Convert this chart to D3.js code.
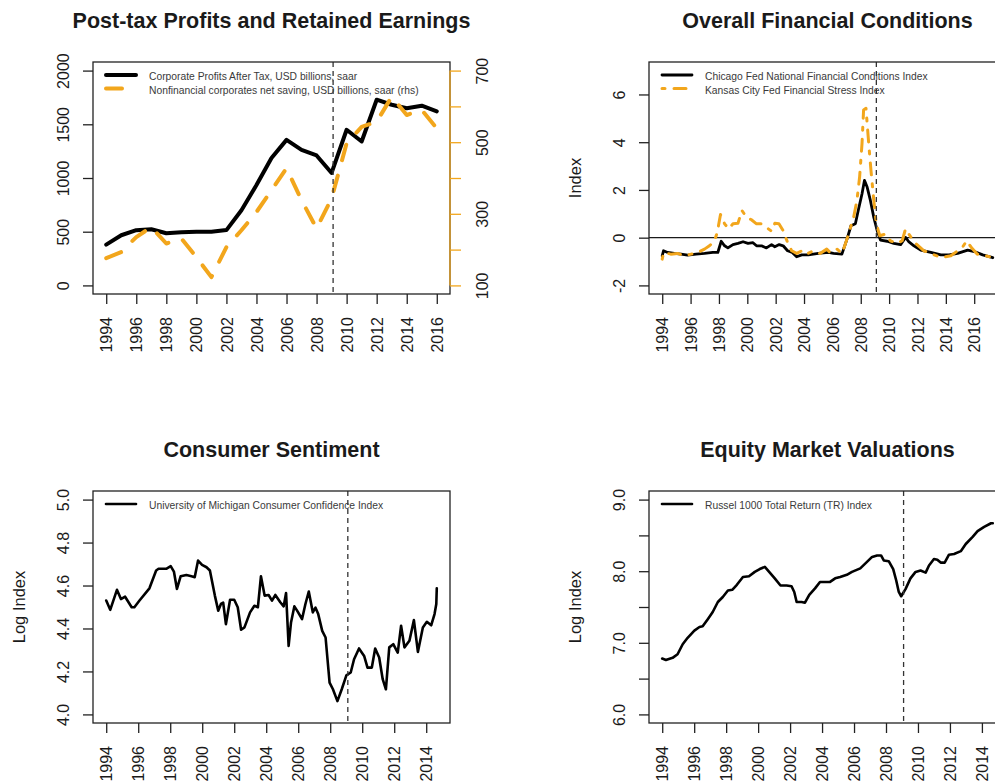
<!DOCTYPE html>
<html lang="en">
<head>
<meta charset="utf-8">
<title>Profits, Financial Conditions, Sentiment and Equity Valuations</title>
<script src="https://d3js.org/d3.v7.min.js"></script>
<style>
  body { margin: 0; background: #fff; }
  svg text { font-family: "Liberation Sans", Arial, sans-serif; }
</style>
</head>
<body>
<div id="chart"></div>
<script>
// ---------- data ----------
const profitYears = [1994, 1995, 1996, 1997, 1998, 1999, 2000, 2001, 2002, 2003, 2004, 2005,
                     2006, 2007, 2008, 2009, 2010, 2011, 2012, 2013, 2014, 2015, 2016];
const profitsAfterTax = [380, 467, 514, 523, 486, 495, 500, 500, 515, 700, 934, 1187,
                         1355, 1262, 1210, 1047, 1449, 1340, 1729, 1682, 1650, 1673, 1620];
const netSaving = [176, 193, 235, 263, 217, 231, 179, 123, 207, 254, 305, 366,
                   427, 338, 259, 343, 497, 543, 557, 627, 576, 590, 539];

const nfciDates = [1994.0, 1994.09, 1994.38, 1994.85, 1995.33, 1995.79, 1996.39, 1996.98, 1997.57, 1997.92,
                   1998.16, 1998.4, 1998.63, 1998.99, 1999.34, 1999.7, 2000.05, 2000.4, 2000.65, 2001.0,
                   2001.35, 2001.71, 2001.94, 2002.25, 2002.53, 2002.84, 2003.17, 2003.48, 2003.84, 2004.3,
                   2005.01, 2005.72, 2006.08, 2006.67, 2007.03, 2007.31, 2007.62, 2007.85, 2008.09, 2008.26,
                   2008.45, 2008.68, 2008.92, 2009.16, 2009.39, 2009.87, 2010.33, 2010.81, 2011.16, 2011.4,
                   2011.75, 2012.23, 2012.94, 2013.65, 2014.23, 2014.83, 2015.54, 2016.01, 2016.6, 2017.31];
const nfciValues = [-0.76, -0.55, -0.62, -0.66, -0.69, -0.73, -0.69, -0.66, -0.62, -0.62,
                    -0.15, -0.34, -0.43, -0.29, -0.24, -0.17, -0.24, -0.21, -0.34, -0.34,
                    -0.43, -0.29, -0.38, -0.29, -0.34, -0.55, -0.62, -0.80, -0.72, -0.72,
                    -0.66, -0.62, -0.66, -0.69, -0.06, 0.50, 0.58, 1.21, 1.84, 2.40,
                    2.12, 1.56, 0.85, 0.29, -0.10, -0.15, -0.24, -0.29, 0.01, -0.18,
                    -0.34, -0.52, -0.62, -0.72, -0.72, -0.66, -0.52, -0.58, -0.72, -0.84];

const kcfsiDates = [1994.0, 1994.1, 1994.6, 1995.09, 1995.56, 1996.04, 1996.5, 1996.98, 1997.33, 1997.69,
                    1997.88, 1998.11, 1998.4, 1998.68, 1998.99, 1999.34, 1999.62, 1999.94, 2000.29, 2000.65,
                    2001.0, 2001.35, 2001.71, 2001.94, 2002.23, 2002.53, 2002.84, 2003.13, 2003.48, 2003.84,
                    2004.19, 2004.66, 2005.13, 2005.6, 2005.84, 2006.32, 2006.67, 2006.91, 2007.14, 2007.5,
                    2007.73, 2007.92, 2008.09, 2008.2, 2008.37, 2008.56, 2008.72, 2008.92, 2009.1, 2009.34,
                    2009.74, 2010.09, 2010.57, 2010.92, 2011.16, 2011.47, 2011.87, 2012.46, 2013.05, 2013.65,
                    2014.35, 2014.83, 2015.16, 2015.47, 2015.8, 2016.22, 2016.82, 2017.31];
const kcfsiValues = [-0.9, -0.62, -0.69, -0.66, -0.76, -0.69, -0.62, -0.48, -0.34, -0.13,
                     0.22, 0.97, 0.58, 0.37, 0.58, 0.6, 1.14, 0.86, 0.75, 0.58,
                     0.58, 0.43, 0.27, 0.6, 0.58, 0.29, -0.2, -0.55, -0.66, -0.55,
                     -0.69, -0.55, -0.66, -0.48, -0.62, -0.48, -0.66, -0.27, 0.15, 0.86,
                     1.56, 2.54, 3.95, 5.35, 5.42, 3.95, 2.82, 1.56, 0.58, 0.08,
                     0.15, -0.13, -0.24, -0.13, 0.37, 0.08, -0.24, -0.55, -0.69, -0.83,
                     -0.76, -0.55, -0.41, -0.13, -0.41, -0.69, -0.76, -0.83];

const sentimentDates = [1994.0, 1994.25, 1994.67, 1994.92, 1995.18, 1995.59, 1995.76, 1996.08, 1996.7, 1997.12,
                        1997.27, 1997.75, 1998.03, 1998.23, 1998.42, 1998.65, 1999.01, 1999.33, 1999.53, 1999.74,
                        1999.99, 2000.27, 2000.48, 2000.79, 2001.0, 2001.17, 2001.31, 2001.48, 2001.74, 2002.0,
                        2002.22, 2002.43, 2002.64, 2002.99, 2003.26, 2003.48, 2003.67, 2003.9, 2004.15, 2004.36,
                        2004.57, 2004.88, 2005.09, 2005.24, 2005.4, 2005.55, 2005.76, 2005.93, 2006.24, 2006.45,
                        2006.66, 2006.91, 2007.08, 2007.25, 2007.5, 2007.71, 2007.96, 2008.17, 2008.45, 2008.72,
                        2009.01, 2009.28, 2009.49, 2009.8, 2010.12, 2010.33, 2010.6, 2010.81, 2011.06, 2011.28,
                        2011.48, 2011.69, 2011.94, 2012.22, 2012.43, 2012.64, 2012.95, 2013.23, 2013.48, 2013.79,
                        2014.04, 2014.31, 2014.52, 2014.63, 2014.66];
const sentimentValues = [4.53, 4.487, 4.58, 4.537, 4.548, 4.499, 4.499, 4.53, 4.587, 4.67,
                         4.678, 4.678, 4.69, 4.665, 4.584, 4.643, 4.649, 4.643, 4.639, 4.716,
                         4.696, 4.685, 4.67, 4.553, 4.483, 4.514, 4.52, 4.42, 4.534, 4.534,
                         4.499, 4.394, 4.405, 4.475, 4.506, 4.499, 4.643, 4.553, 4.556, 4.53,
                         4.556, 4.522, 4.503, 4.565, 4.319, 4.428, 4.503, 4.483, 4.444, 4.514,
                         4.572, 4.475, 4.497, 4.467, 4.389, 4.358, 4.148, 4.117, 4.062, 4.117,
                         4.182, 4.195, 4.257, 4.307, 4.272, 4.218, 4.218, 4.307, 4.265, 4.164,
                         4.117, 4.312, 4.327, 4.288, 4.413, 4.312, 4.343, 4.439, 4.291, 4.405,
                         4.431, 4.415, 4.467, 4.514, 4.587];

const russellDates = [1994.0, 1994.23, 1994.65, 1994.96, 1995.28, 1995.59, 1996.01, 1996.33, 1996.53, 1996.85,
                      1997.16, 1997.48, 1997.79, 1998.11, 1998.38, 1998.67, 1999.05, 1999.43, 1999.79, 2000.1,
                      2000.42, 2000.69, 2001.04, 2001.4, 2001.78, 2002.09, 2002.26, 2002.41, 2002.72, 2002.93,
                      2003.2, 2003.56, 2003.87, 2004.19, 2004.5, 2004.82, 2005.13, 2005.55, 2005.87, 2006.39,
                      2006.81, 2007.13, 2007.44, 2007.69, 2007.86, 2008.17, 2008.45, 2008.64, 2008.8, 2008.95,
                      2009.22, 2009.53, 2009.85, 2010.16, 2010.48, 2010.69, 2011.0, 2011.21, 2011.42, 2011.67,
                      2011.94, 2012.26, 2012.68, 2012.99, 2013.42, 2013.73, 2014.14, 2014.57, 2014.68];
const russellValues = [6.78, 6.76, 6.79, 6.84, 6.98, 7.07, 7.17, 7.22, 7.23, 7.33,
                       7.43, 7.57, 7.64, 7.73, 7.74, 7.81, 7.92, 7.93, 7.99, 8.03,
                       8.06, 7.99, 7.90, 7.80, 7.80, 7.79, 7.71, 7.57, 7.57, 7.56,
                       7.67, 7.76, 7.85, 7.85, 7.85, 7.90, 7.92, 7.95, 7.99, 8.04,
                       8.13, 8.20, 8.22, 8.22, 8.15, 8.14, 8.03, 7.87, 7.71, 7.65,
                       7.75, 7.90, 7.99, 8.01, 7.98, 8.08, 8.17, 8.16, 8.12, 8.12,
                       8.23, 8.24, 8.28, 8.38, 8.48, 8.56, 8.62, 8.67, 8.67];

// tick values and labels
const xTicksLong = [1994, 1996, 1998, 2000, 2002, 2004, 2006, 2008, 2010, 2012, 2014, 2016];
const xTicksShort = [1994, 1996, 1998, 2000, 2002, 2004, 2006, 2008, 2010, 2012, 2014];
const profitTicks = [0, 500, 1000, 1500, 2000];
const profitTickLabels = ["0", "500", "1000", "1500", "2000"];
const savingTicks = [100, 200, 300, 400, 500, 600, 700];
const savingTickLabels = ["100", "", "300", "", "500", "", "700"];
const indexTicks = [-2, 0, 2, 4, 6];
const indexTickLabels = ["-2", "0", "2", "4", "6"];
const sentimentTicks = [4.0, 4.2, 4.4, 4.6, 4.8, 5.0];
const sentimentTickLabels = ["4.0", "4.2", "4.4", "4.6", "4.8", "5.0"];
const russellTicks = [6.0, 6.5, 7.0, 7.5, 8.0, 8.5, 9.0];
const russellTickLabels = ["6.0", "", "7.0", "", "8.0", "", "9.0"];

const crisisDate = 2009.1;   // dashed vertical marker

// ---------- layout ----------
const width = 995, height = 782;
const plotW = 357, plotH = 232;
const orange = "#F2A61C";
const ink = "#1a1a1a";

const svg = d3.select("#chart").append("svg")
    .attr("width", width)
    .attr("height", height);

// R-style 4% axis padding
function padRange(r) {
    const e = 0.04 * (r[1] - r[0]);
    return [r[0] - e, r[1] + e];
}

function styleAxis(sel, color) {
    sel.attr("font-size", 16).attr("color", color || "#222");
    sel.select(".domain").remove();
    sel.selectAll(".tick line").attr("stroke-width", 1.3);
    sel.selectAll(".tick text").attr("fill", ink);
}

function drawPanel(cfg) {
    const g = svg.append("g").attr("transform", `translate(${cfg.left},${cfg.top})`);

    const allDates = [].concat(...cfg.series.map(s => s.dates));
    const x = d3.scaleLinear().domain(padRange(d3.extent(allDates))).range([0, plotW]);
    const y = d3.scaleLinear().domain(padRange(cfg.yLim)).range([plotH, 0]);
    const yRight = cfg.yRightLim ? d3.scaleLinear().domain(padRange(cfg.yRightLim)).range([plotH, 0]) : null;

    // clipped plotting area
    svg.append("clipPath").attr("id", cfg.id + "-clip")
        .append("rect").attr("width", plotW).attr("height", plotH);
    const plot = g.append("g").attr("clip-path", `url(#${cfg.id}-clip)`);

    if (cfg.zeroLine) {
        plot.append("line")
            .attr("x1", 0).attr("x2", plotW)
            .attr("y1", y(0)).attr("y2", y(0))
            .attr("stroke", ink).attr("stroke-width", 1.3);
    }

    cfg.series.forEach(s => {
        const ys = s.right ? yRight : y;
        const line = d3.line().x(d => x(d[0])).y(d => ys(d[1]));
        plot.append("path")
            .datum(d3.zip(s.dates, s.values))
            .attr("fill", "none")
            .attr("stroke", s.color)
            .attr("stroke-width", s.width)
            .attr("stroke-dasharray", s.dash || null)
            .attr("stroke-linecap", "round")
            .attr("stroke-linejoin", "round")
            .attr("d", line);
    });

    // crisis marker
    plot.append("line")
        .attr("x1", x(crisisDate)).attr("x2", x(crisisDate))
        .attr("y1", 0).attr("y2", plotH)
        .attr("stroke", "#333").attr("stroke-width", 1.3)
        .attr("stroke-dasharray", "5,4");

    // box
    g.append("rect")
        .attr("width", plotW).attr("height", plotH)
        .attr("fill", "none").attr("stroke", "#222").attr("stroke-width", 1.3);

    // axes
    g.append("g")
        .attr("transform", `translate(0,${plotH})`)
        .call(d3.axisBottom(x).tickValues(cfg.xTicks).tickFormat(d3.format("d")).tickSize(10).tickSizeOuter(0))
        .call(sel => styleAxis(sel))
        .selectAll(".tick text")
        .attr("transform", "rotate(-90)")
        .attr("x", -23).attr("y", 0).attr("dy", "0.35em")
        .attr("text-anchor", "end");

    g.append("g")
        .call(d3.axisLeft(y).tickValues(cfg.yTicks).tickFormat((d, i) => cfg.yTickLabels[i]).tickSize(10).tickSizeOuter(0))
        .call(sel => styleAxis(sel))
        .selectAll(".tick text")
        .attr("transform", "rotate(-90)")
        .attr("x", 0).attr("y", -30).attr("dy", "0.35em")
        .attr("text-anchor", "middle");

    if (yRight) {
        const ax = g.append("g")
            .attr("transform", `translate(${plotW},0)`)
            .call(d3.axisRight(yRight).tickValues(cfg.yRightTicks).tickFormat((d, i) => cfg.yRightTickLabels[i]).tickSize(11).tickSizeOuter(0))
            .call(sel => styleAxis(sel, orange));
        ax.selectAll(".tick text")
            .attr("transform", "rotate(-90)")
            .attr("x", 0).attr("y", 32).attr("dy", "0.35em")
            .attr("text-anchor", "middle");
        ax.append("line")
            .attr("x1", 0).attr("x2", 0)
            .attr("y1", yRight(d3.min(cfg.yRightTicks))).attr("y2", yRight(d3.max(cfg.yRightTicks)))
            .attr("stroke", orange).attr("stroke-width", 1.3);
    }

    // title
    g.append("text")
        .attr("x", plotW / 2).attr("y", -34.5)
        .attr("text-anchor", "middle")
        .attr("font-size", 21.5).attr("font-weight", "bold")
        .attr("fill", ink)
        .text(cfg.title);

    if (cfg.yLabel) {
        g.append("text")
            .attr("transform", `translate(-74,${plotH / 2}) rotate(-90)`)
            .attr("text-anchor", "middle").attr("dy", "0.35em")
            .attr("font-size", 16.5).attr("fill", ink)
            .text(cfg.yLabel);
    }

    // legend (no border)
    const legend = g.append("g").attr("transform", "translate(13,13)");
    cfg.series.forEach((s, i) => {
        legend.append("line")
            .attr("x1", 0).attr("x2", 30)
            .attr("y1", i * 13.5).attr("y2", i * 13.5)
            .attr("stroke", s.color)
            .attr("stroke-width", s.width)
            .attr("stroke-dasharray", s.dash || null)
            .attr("stroke-linecap", "round");
        legend.append("text")
            .attr("x", 43).attr("y", i * 13.5 + 1.5)
            .attr("dy", "0.35em")
            .attr("font-size", 10.3).attr("fill", "#3a3a3a")
            .text(s.label);
    });
}

drawPanel({
    id: "p1", left: 93, top: 62,
    title: "Post-tax Profits and Retained Earnings",
    yLim: [0, 2000], yTicks: profitTicks, yTickLabels: profitTickLabels,
    yRightLim: [100, 700], yRightTicks: savingTicks, yRightTickLabels: savingTickLabels,
    xTicks: xTicksLong,
    series: [
        { dates: profitYears, values: profitsAfterTax, color: "#000", width: 4,
          label: "Corporate Profits After Tax, USD billions, saar" },
        { dates: profitYears, values: netSaving, color: orange, width: 4, dash: "16,16", right: true,
          label: "Nonfinancial corporates net saving, USD billions, saar (rhs)" }
    ]
});

drawPanel({
    id: "p2", left: 649, top: 62,
    title: "Overall Financial Conditions", yLabel: "Index",
    yLim: [-2, 7], yTicks: indexTicks, yTickLabels: indexTickLabels,
    xTicks: xTicksLong, zeroLine: true,
    series: [
        { dates: nfciDates, values: nfciValues, color: "#000", width: 2.8,
          label: "Chicago Fed National Financial Conditions Index" },
        { dates: kcfsiDates, values: kcfsiValues, color: orange, width: 3, dash: "3,9,12,9",
          label: "Kansas City Fed Financial Stress Index" }
    ]
});

drawPanel({
    id: "p3", left: 93, top: 491,
    title: "Consumer Sentiment", yLabel: "Log Index",
    yLim: [4, 5], yTicks: sentimentTicks, yTickLabels: sentimentTickLabels,
    xTicks: xTicksShort,
    series: [
        { dates: sentimentDates, values: sentimentValues, color: "#000", width: 2.6,
          label: "University of Michigan Consumer Confidence Index" }
    ]
});

drawPanel({
    id: "p4", left: 649, top: 491,
    title: "Equity Market Valuations", yLabel: "Log Index",
    yLim: [6, 9], yTicks: russellTicks, yTickLabels: russellTickLabels,
    xTicks: xTicksShort,
    series: [
        { dates: russellDates, values: russellValues, color: "#000", width: 2.6,
          label: "Russel 1000 Total Return (TR) Index" }
    ]
});
</script>
</body>
</html>
